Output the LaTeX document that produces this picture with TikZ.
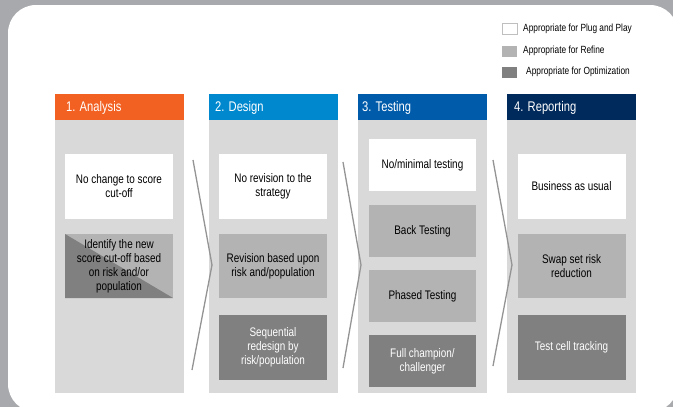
\documentclass[tikz,border=0pt]{standalone}
\usepackage{fontspec}
\setmainfont[FakeStretch=0.8]{Liberation Sans}
\definecolor{outergray}{HTML}{A7A9AC}
\definecolor{colgray}{HTML}{D9D9D9}
\definecolor{refgray}{HTML}{B3B3B3}
\definecolor{optgray}{HTML}{808080}
\definecolor{chevgray}{HTML}{949494}
\definecolor{hdrA}{HTML}{F26122}
\definecolor{hdrB}{HTML}{0088CF}
\definecolor{hdrC}{HTML}{005BAA}
\definecolor{hdrD}{HTML}{002A5C}
\begin{document}
\begin{tikzpicture}[x=1pt,y=-1pt,
  colbody/.style={fill=colgray, draw=none, minimum width=129pt, minimum height=273pt, inner sep=0},
  hdrbar/.style={draw=none, minimum width=129pt, minimum height=26pt, inner sep=0},
  hdrtext/.style={text=white, font=\fontsize{14}{16}\selectfont, anchor=west, inner sep=0},
  bx/.style={draw=none, minimum width=108pt, minimum height=65pt, align=center, font=\fontsize{12.4}{14}\selectfont, inner sep=0},
  bxs/.style={bx, minimum width=107pt, minimum height=52pt},
  plug/.style={fill=white},
  refine/.style={fill=refgray},
  optim/.style={fill=optgray, text=white},
  legbox/.style={minimum width=15pt, minimum height=11pt, inner sep=0},
  legtext/.style={anchor=west, inner sep=0, font=\fontsize{10.4}{12}\selectfont},
  chev/.style={draw=chevgray, line width=1.3pt, line join=miter}
]
\useasboundingbox (0,0) rectangle (673,407);
\begin{scope}
\clip (0,0) rectangle (673,407);
\fill[outergray] (0,0) rectangle (673,407);
\fill[white, rounded corners=28pt] (8,5) rectangle (678,412);
\end{scope}

% legend
\node[legbox, fill=white, draw=black!25, line width=1pt] (lg1) at (509.5,28.5) {};
\node[legbox, fill=refgray] (lg2) at (509.5,51) {};
\node[legbox, fill=optgray] (lg3) at (509.5,72.5) {};
\node[legtext] (lt1) at (523,29) {Appropriate for Plug and Play};
\node[legtext] (lt2) at (523,51) {Appropriate for Refine};
\node[legtext] (lt3) at (526,72) {Appropriate for Optimization};

% columns
\node[colbody] (c1) at (119.5,256.5) {};
\node[colbody] (c2) at (273.5,256.5) {};
\node[colbody] (c3) at (422.5,256.5) {};
\node[colbody] (c4) at (571.5,256.5) {};

\node[hdrbar, fill=hdrA] (h1) at (119.5,107) {};
\node[hdrbar, fill=hdrB] (h2) at (273.5,107) {};
\node[hdrbar, fill=hdrC] (h3) at (422.5,107) {};
\node[hdrbar, fill=hdrD] (h4) at (571.5,107) {};
\node[hdrtext] (ht1) at (66,108) {1. Analysis};
\node[hdrtext] (ht2) at (215,108) {2. Design};
\node[hdrtext] (ht3) at (362,108) {3. Testing};
\node[hdrtext] (ht4) at (514,108) {4. Reporting};

% column 1
\node[bx, plug] (a1) at (119,186.5) {No change to score\\cut-off};
\node[bx, fill=refgray, minimum height=64pt,
  path picture={\fill[optgray] (path picture bounding box.north west) -- (path picture bounding box.south west) -- (path picture bounding box.south east) -- cycle;}]
  (a2) at (119,266) {Identify the new\\score cut-off based\\on risk and/or\\population};

% column 2
\node[bx, plug] (b1) at (273,186.5) {No revision to the\\strategy};
\node[bx, refine, minimum height=64pt] (b2) at (273,266) {Revision based upon\\risk and/population};
\node[bx, optim] (b3) at (273,347.5) {Sequential\\redesign by\\risk/population};

% column 3
\node[bxs, plug] (d1) at (422.5,165) {No/minimal testing};
\node[bxs, refine] (d2) at (422.5,231) {Back Testing};
\node[bxs, refine] (d3) at (422.5,296) {Phased Testing};
\node[bxs, optim] (d4) at (422.5,361) {Full champion/\\challenger};

% column 4
\node[bx, plug] (e1) at (571.5,186.5) {Business as usual};
\node[bx, refine, minimum height=64pt] (e2) at (571.5,266) {Swap set risk\\reduction};
\node[bx, optim] (e3) at (571.5,347.5) {Test cell tracking};

% chevrons
\coordinate (p1a) at (193,160); \coordinate (p1b) at (212,265); \coordinate (p1c) at (192,370);
\coordinate (p2a) at (343,162); \coordinate (p2b) at (361,265); \coordinate (p2c) at (343,368);
\coordinate (p3a) at (493,160); \coordinate (p3b) at (512,265); \coordinate (p3c) at (493,366);
\draw[chev] (p1a) -- (p1b) -- (p1c);
\draw[chev] (p2a) -- (p2b) -- (p2c);
\draw[chev] (p3a) -- (p3b) -- (p3c);
\end{tikzpicture}
\end{document}
